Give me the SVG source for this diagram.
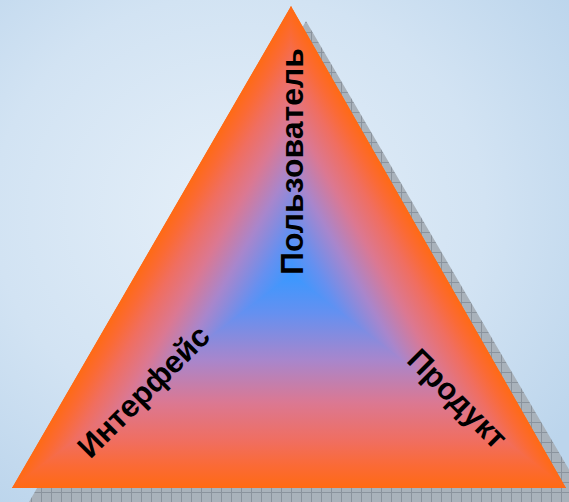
<svg xmlns="http://www.w3.org/2000/svg" width="569" height="502" viewBox="0 0 569 502">
<defs>
<radialGradient id="bg" cx="0.42" cy="0.42" r="0.72">
<stop offset="0" stop-color="#e6f0f9"/>
<stop offset="0.6" stop-color="#d2e3f3"/>
<stop offset="1" stop-color="#bcd5ec"/>
</radialGradient>
<pattern id="grid" width="10" height="10" patternUnits="userSpaceOnUse" x="1" y="2">
<rect width="10" height="10" fill="#a9b2bb"/>
<path d="M0 0.5H10M0.5 0V10" stroke="#8a939d" stroke-width="1" fill="none"/>
</pattern>
<linearGradient id="gBase" gradientUnits="userSpaceOnUse" x1="292" y1="275" x2="292" y2="488">
<stop offset="0" stop-color="#3a98ff"/>
<stop offset="0.18" stop-color="#6590f0"/>
<stop offset="0.4" stop-color="#a886cc"/>
<stop offset="0.6" stop-color="#db7892"/>
<stop offset="0.78" stop-color="#f06e60"/>
<stop offset="0.9" stop-color="#fb6a34"/>
<stop offset="1" stop-color="#ff6a14"/>
</linearGradient>
<linearGradient id="gLeft" gradientUnits="userSpaceOnUse" x1="292" y1="275" x2="174.6" y2="207">
<stop offset="0" stop-color="#3a98ff"/>
<stop offset="0.18" stop-color="#6590f0"/>
<stop offset="0.4" stop-color="#a886cc"/>
<stop offset="0.6" stop-color="#db7892"/>
<stop offset="0.78" stop-color="#f06e60"/>
<stop offset="0.9" stop-color="#fb6a34"/>
<stop offset="1" stop-color="#ff6a14"/>
</linearGradient>
<linearGradient id="gRight" gradientUnits="userSpaceOnUse" x1="292" y1="275" x2="407" y2="209.3">
<stop offset="0" stop-color="#3a98ff"/>
<stop offset="0.18" stop-color="#6590f0"/>
<stop offset="0.4" stop-color="#a886cc"/>
<stop offset="0.6" stop-color="#db7892"/>
<stop offset="0.78" stop-color="#f06e60"/>
<stop offset="0.9" stop-color="#fb6a34"/>
<stop offset="1" stop-color="#ff6a14"/>
</linearGradient>
<clipPath id="triClip">
<polygon points="291,6 12,488 566,488"/>
</clipPath>
</defs>
<style>
.lbl{font-family:"Liberation Sans",Arial,sans-serif;font-weight:bold;font-size:31px;fill:#000}
.sub{stroke-width:1.5;stroke-linejoin:round}
</style>
<rect width="569" height="502" fill="url(#bg)"/>
<g id="shadow">
<polygon points="306,21 588,502 29,502" fill="url(#grid)"/>
</g>
<g id="triangle" clip-path="url(#triClip)">
<polygon class="sub" points="292,275 291,6 12,488" fill="url(#gLeft)" stroke="url(#gLeft)"/>
<polygon class="sub" points="292,275 291,6 566,488" fill="url(#gRight)" stroke="url(#gRight)"/>
<polygon class="sub" points="292,275 12,488 566,488" fill="url(#gBase)" stroke="url(#gBase)"/>
</g>
<g id="label-user">
<text class="lbl" transform="translate(303,275) rotate(-90)" x="0" y="0" textLength="227" lengthAdjust="spacingAndGlyphs">Пользователь</text>
</g>
<g id="label-interface">
<text class="lbl" transform="translate(151,399) rotate(-45)" x="0" y="0" text-anchor="middle" textLength="172" lengthAdjust="spacingAndGlyphs">Интерфейс</text>
</g>
<g id="label-product">
<text class="lbl" transform="translate(450,406) rotate(45)" x="0" y="0" text-anchor="middle" textLength="126" lengthAdjust="spacingAndGlyphs">Продукт</text>
</g>
</svg>
